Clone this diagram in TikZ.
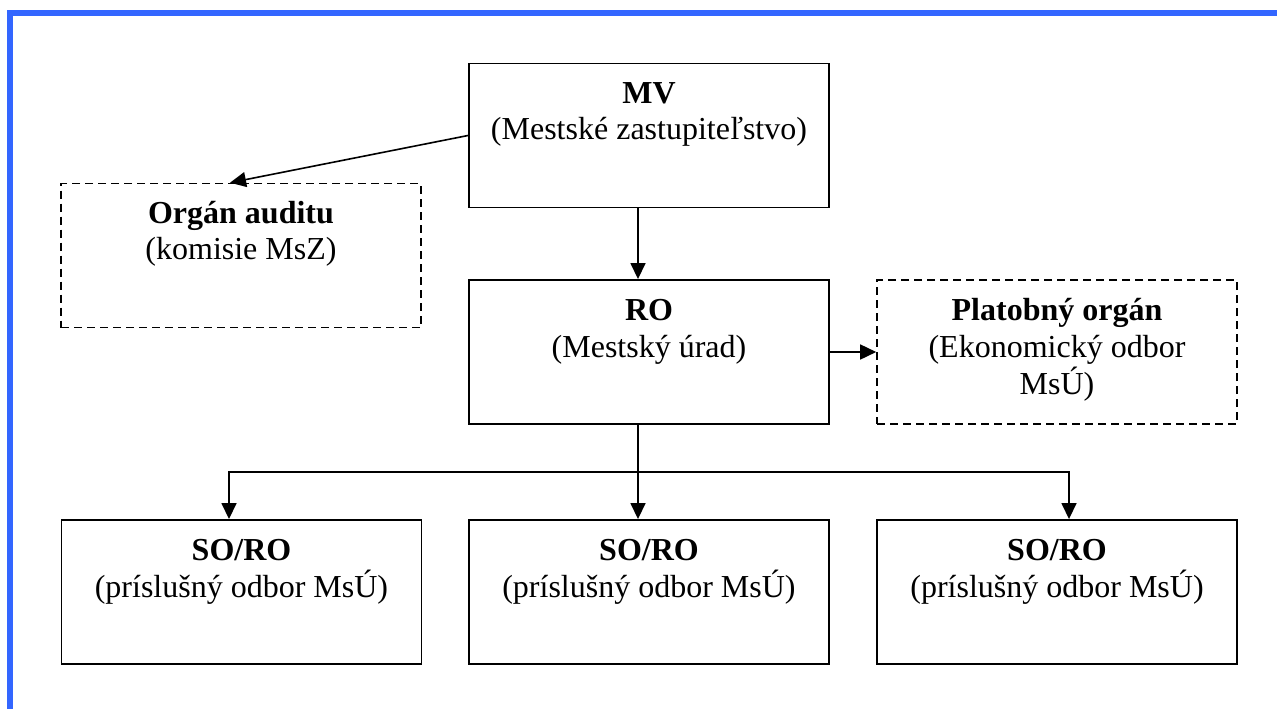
\documentclass[tikz,border=0pt]{standalone}
\usepackage{fontspec}
\setmainfont{Liberation Serif}
\usetikzlibrary{arrows.meta}
\definecolor{frameblue}{HTML}{3366FF}
\tikzset{
  box/.style={draw=black, line width=1.9pt, minimum width=360, minimum height=144, inner sep=0pt},
  dbox/.style={box, dash pattern=on 8pt off 5pt, line width=1.6pt},
  conn/.style={draw=black, line width=1.6pt, -{Triangle[length=16pt,width=15pt]}},
  ttl/.style={anchor=base, inner sep=0pt, font=\fontsize{32}{37}\selectfont\bfseries},
  sub/.style={anchor=base, inner sep=0pt, font=\fontsize{32}{37}\selectfont},
}
\begin{document}
\begin{tikzpicture}[x=1pt,y=-1pt]
\useasboundingbox (0,0) rectangle (1277,709);
\fill[white] (0,0) rectangle (1277,709);
% blue frame
\fill[frameblue] (7,10) rectangle (1277,16);
\fill[frameblue] (7,10) rectangle (13,709);

% boxes
\node[box]  (mv)  at (649,135.5) {};
\node[dbox] (org) at (241,255.5) {};
\node[box]  (ro)  at (649,352) {};
\node[dbox] (plat) at (1057,352) {};
\node[box]  (so1) at (241.5,592) {};
\node[box]  (so2) at (649,592) {};
\node[box]  (so3) at (1057,592) {};

% texts
\node[ttl] (mvt) at (649,103) {MV};
\node[sub] (mvs) at (649,139) {(Mestské zastupiteľstvo)};
\node[ttl] (orgt) at (241,223) {Orgán auditu};
\node[sub] (orgs) at (241,259) {(komisie MsZ)};
\node[ttl] (rot) at (649,320) {RO};
\node[sub] (ros) at (649,357) {(Mestský úrad)};
\node[ttl] (platt) at (1057,320) {Platobný orgán};
\node[sub] (plats) at (1057,357) {(Ekonomický odbor};
\node[sub] (platm) at (1057,394) {MsÚ)};
\node[ttl] (so1t) at (241.5,560) {SO/RO};
\node[sub] (so1s) at (241.5,597) {(príslušný odbor MsÚ)};
\node[ttl] (so2t) at (649,560) {SO/RO};
\node[sub] (so2s) at (649,597) {(príslušný odbor MsÚ)};
\node[ttl] (so3t) at (1057,560) {SO/RO};
\node[sub] (so3s) at (1057,597) {(príslušný odbor MsÚ)};

% connectors
\draw[conn] (mv.west) -- ([xshift=-11pt]org.north);
\draw[conn] ([xshift=-11pt]mv.south) -- ([xshift=-11pt]ro.north);
\draw[conn] (ro.east) -- (plat.west);
\coordinate (split) at (638,472);
\draw[conn] ([xshift=-11pt]ro.south) -- ([xshift=-11pt]so2.north);
\draw[conn] (split) -| ([xshift=-12.5pt]so1.north);
\draw[conn] (split) -| ([xshift=12pt]so3.north);
\end{tikzpicture}
\end{document}
